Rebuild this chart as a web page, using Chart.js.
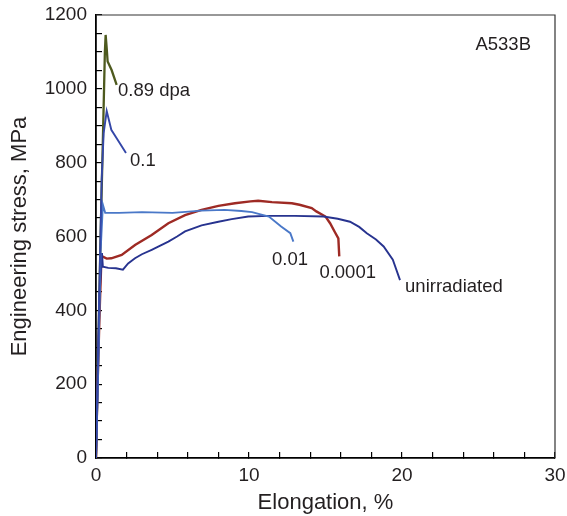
<!DOCTYPE html>
<html>
<head>
<meta charset="utf-8">
<script src="https://cdn.jsdelivr.net/npm/chart.js@4/dist/chart.umd.min.js"></script>
<style>
  html, body { margin: 0; padding: 0; background: #fff; }
  #wrap { width: 567px; height: 516px; }
</style>
</head>
<body>
<div id="wrap"><canvas id="c" width="567" height="516"></canvas></div>
<script>
// ── Data (elongation %, engineering stress MPa) ─────────────────────
const unirrX = [0, 0.1, 0.24, 0.39, 0.45, 0.8, 1.3, 1.76, 2.1, 2.55, 3.0, 3.64, 4.2, 4.73, 5.3, 5.82, 6.9, 8.0, 8.87, 9.95, 11.3, 13.0, 14.86, 15.8, 16.6, 17.2, 17.7, 18.3, 18.8, 19.4, 19.87];
const unirrY = [0, 180, 447, 555, 518, 515, 514, 510, 527, 541, 552, 564, 575, 586, 600, 614, 630, 640, 647, 654, 656, 656, 654, 648, 640, 626, 609, 592, 573, 537, 482];

const d0001X = [0, 0.08, 0.24, 0.35, 0.42, 0.7, 1.0, 1.68, 2.55, 3.64, 4.73, 5.82, 6.9, 8.0, 9.08, 10.1, 10.6, 11.5, 12.8, 13.3, 14.1, 14.4, 15.0, 15.3, 15.6, 15.84, 15.9];
const d0001Y = [0, 166, 401, 537, 546, 540, 541, 550, 577, 604, 636, 658, 672, 683, 690, 695, 697, 693, 690, 686, 677, 668, 654, 636, 613, 595, 546];

const d001X = [0, 0.15, 0.3, 0.45, 0.6, 1.5, 3, 5, 6.9, 8.4, 9.5, 10.2, 11.3, 12.1, 12.7, 12.9];
const d001Y = [0, 250, 560, 686, 664, 664, 666, 664, 670, 672, 669, 666, 654, 627, 609, 586];

const d01X = [0, 0.2, 0.37, 0.5, 0.7, 1.0, 1.35, 1.96];
const d01Y = [0, 420, 753, 880, 940, 889, 866, 826];

const d089X = [0, 0.3, 0.48, 0.58, 0.63, 0.7, 0.76, 1.02, 1.35];
const d089Y = [0, 600, 916, 1100, 1146, 1110, 1074, 1051, 1011];

// curve labels, placed in data units (left edge, vertical middle)
const labelText = ['0.89 dpa', '0.1', '0.01', '0.0001', 'unirradiated', 'A533B'];
const labelX    = [1.44, 2.22, 11.5, 14.6, 20.2, 24.8];
const labelY    = [995, 805, 537, 501, 463, 1119];

const FONT = '"Liberation Sans", Arial, sans-serif';
const INK  = '#231f20';

const pts = (xs, ys) => xs.map((x, i) => ({ x, y: ys[i] }));

function series(label, xs, ys, color, width) {
  return {
    label, data: pts(xs, ys),
    borderColor: color, backgroundColor: color,
    borderWidth: width, pointRadius: 0, showLine: true, tension: 0,
  };
}

// ── Plugins: frame box and curve labels ─────────────────────────────
const framePlugin = {
  id: 'frame',
  afterDraw(chart) {
    const { ctx, chartArea: a } = chart;
    ctx.save();
    ctx.strokeStyle = '#333';
    ctx.lineWidth = 1.2;
    ctx.beginPath();
    ctx.moveTo(a.left, a.top);
    ctx.lineTo(a.right, a.top);
    ctx.lineTo(a.right, a.bottom);
    ctx.stroke();
    ctx.restore();
  },
};

const labelPlugin = {
  id: 'curveLabels',
  afterDatasetsDraw(chart) {
    const { ctx, scales: { x, y } } = chart;
    ctx.save();
    ctx.fillStyle = INK;
    ctx.font = '18.5px ' + FONT;
    ctx.textAlign = 'left';
    ctx.textBaseline = 'middle';
    labelText.forEach((t, i) => {
      ctx.fillText(t, x.getPixelForValue(labelX[i]), y.getPixelForValue(labelY[i]));
    });
    ctx.restore();
  },
};

new Chart(document.getElementById('c'), {
  type: 'scatter',
  data: {
    datasets: [
      series('0.1', d01X, d01Y, '#3447a8', 1.9),
      series('0.01', d001X, d001Y, '#4a78c8', 1.9),
      series('unirradiated', unirrX, unirrY, '#27338f', 1.9),
      series('0.0001', d0001X, d0001Y, '#9e2a24', 2.4),
      series('0.89 dpa', d089X, d089Y, '#4e5a1e', 2.3),
    ],
  },
  options: {
    responsive: false,
    animation: false,
    layout: { padding: { top: 15, right: 12, left: 0, bottom: 0 } },
    plugins: { legend: { display: false }, tooltip: { enabled: false } },
    scales: {
      x: {
        type: 'linear', min: 0, max: 30,
        border: { display: true, color: '#000', width: 1.8 },
        grid: { drawOnChartArea: false, color: '#000', lineWidth: 1.2, tickLength: -6 },
        ticks: {
          stepSize: 2, autoSkip: false, maxRotation: 0, padding: 12,
          color: INK, font: { family: FONT, size: 19 },
          callback: v => (v % 10 === 0 ? v : ''),
        },
        title: {
          display: true, text: 'Elongation, %', color: INK,
          font: { family: FONT, size: 22, lineHeight: 1.2 }, padding: { top: 0, bottom: 0 },
        },
        afterFit: s => { s.height = 58; s.paddingLeft = 0; s.paddingRight = 0; },
      },
      y: {
        type: 'linear', min: 0, max: 1200,
        border: { display: true, color: '#000', width: 1.8 },
        grid: { drawOnChartArea: false, color: '#000', lineWidth: 1.2, tickLength: -6 },
        ticks: {
          stepSize: 50, autoSkip: false, padding: 15,
          color: INK, font: { family: FONT, size: 19 },
          callback: v => (v % 200 === 0 ? v : ''),
        },
        title: {
          display: true, text: 'Engineering stress, MPa', color: INK,
          font: { family: FONT, size: 22, lineHeight: 1.2 }, padding: { top: 7, bottom: 0 },
        },
        afterFit: s => { s.width = 96; s.paddingTop = 0; s.paddingBottom = 0; },
      },
    },
  },
  plugins: [framePlugin, labelPlugin],
});
</script>
</body>
</html>
